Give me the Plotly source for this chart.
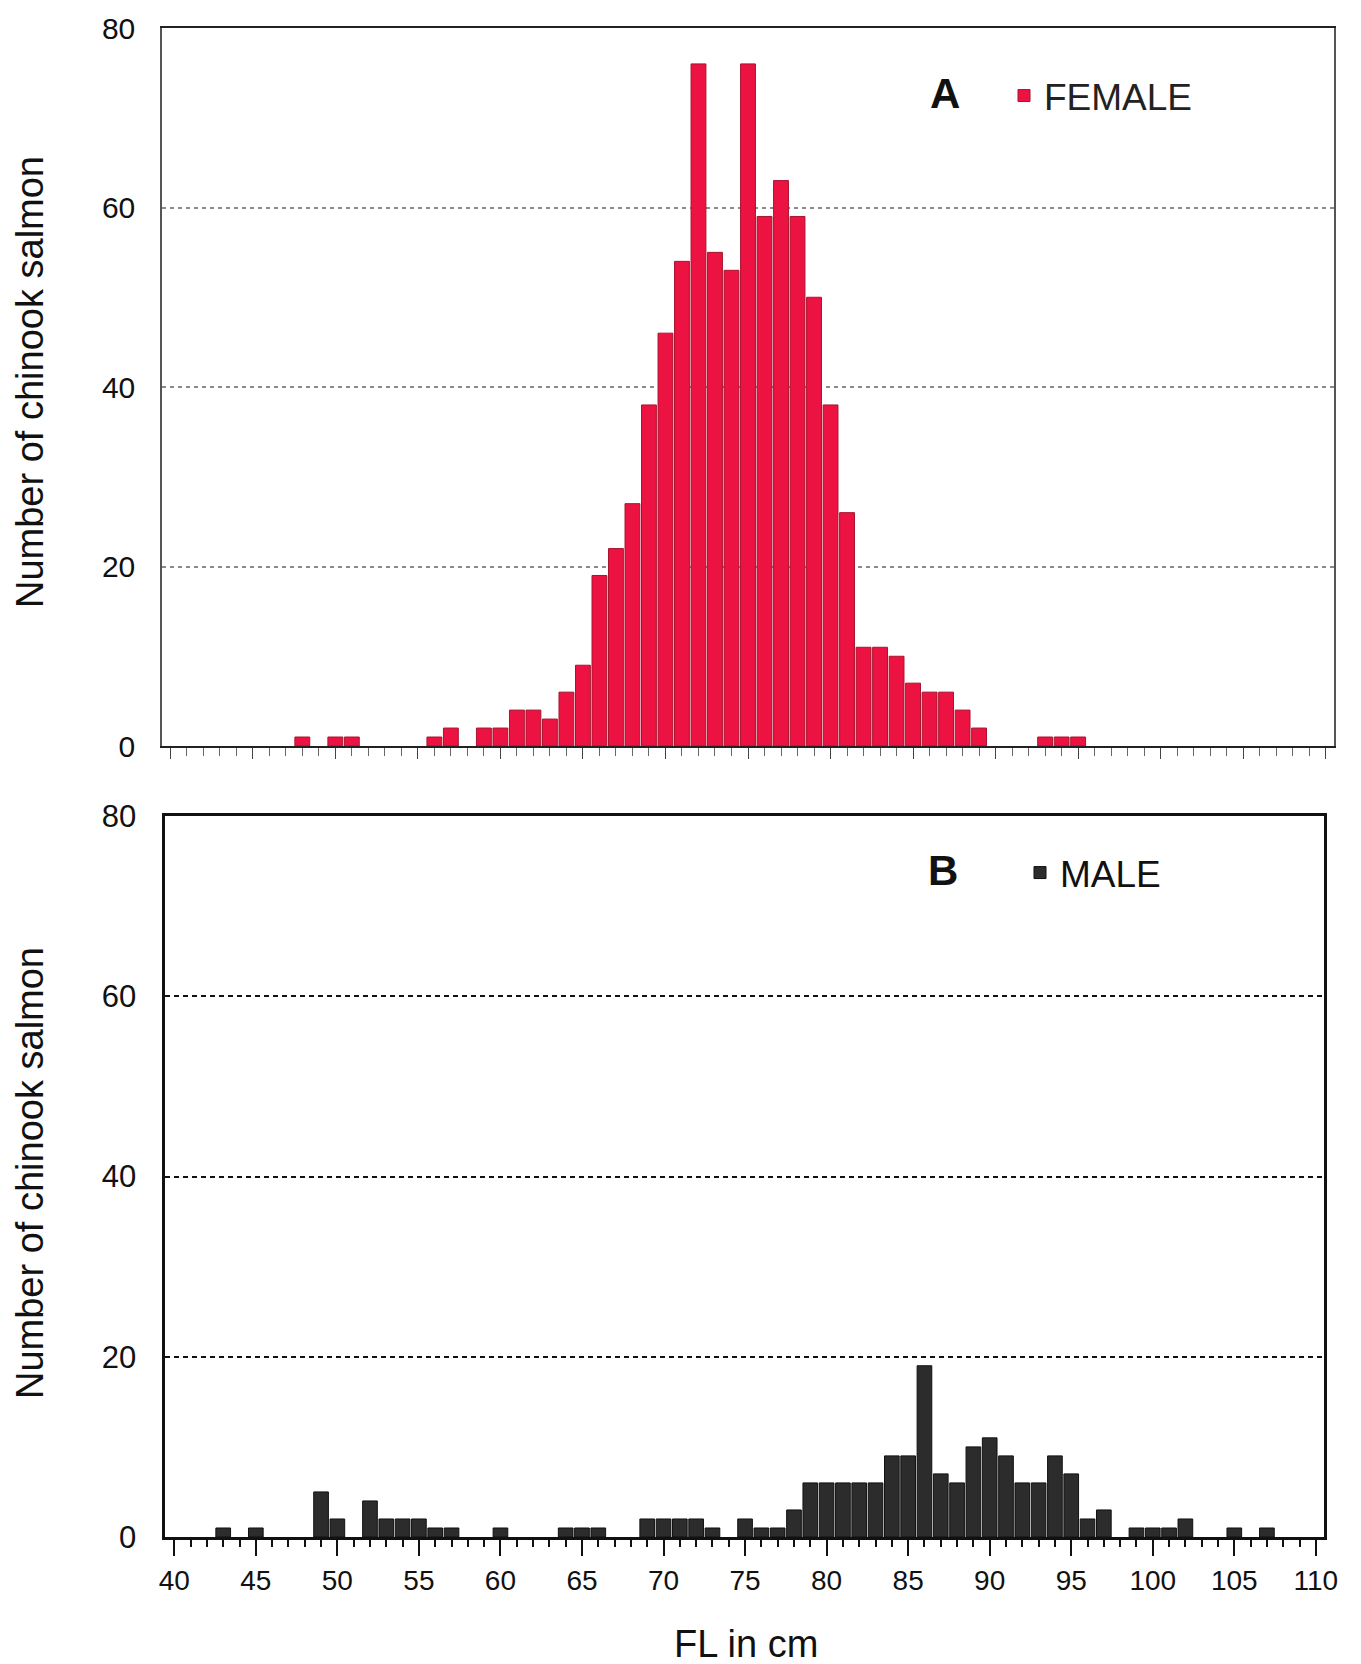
import plotly.graph_objects as go

# ---- data (fork length in cm, number of fish) ----
female_fl = [48, 50, 51, 56, 57, 59, 60, 61, 62, 63, 64, 65, 66, 67, 68, 69, 70, 71, 72, 73,
             74, 75, 76, 77, 78, 79, 80, 81, 82, 83, 84, 85, 86, 87, 88, 89, 93, 94, 95]
female_n = [1, 1, 1, 1, 2, 2, 2, 4, 4, 3, 6, 9, 19, 22, 27, 38, 46, 54, 76, 55,
            53, 76, 59, 63, 59, 50, 38, 26, 11, 11, 10, 7, 6, 6, 4, 2, 1, 1, 1]

male_fl = [43, 45, 49, 50, 52, 53, 54, 55, 56, 57, 60, 64, 65, 66, 69, 70, 71, 72, 73, 75,
           76, 77, 78, 79, 80, 81, 82, 83, 84, 85, 86, 87, 88, 89, 90, 91, 92, 93, 94, 95,
           96, 97, 99, 100, 101, 102, 105, 107]
male_n = [1, 1, 5, 2, 4, 2, 2, 2, 1, 1, 1, 1, 1, 1, 2, 2, 2, 2, 1, 2,
          1, 1, 3, 6, 6, 6, 6, 6, 9, 9, 19, 7, 6, 10, 11, 9, 6, 6, 9, 7,
          2, 3, 1, 1, 1, 2, 1, 1]

x_ticks = list(range(40, 111, 5))
y_ticks = [0, 20, 40, 60, 80]

# page has an 8px body margin: figure is placed at (8, 8) in the window
OFF = 8
W, H = 1361 - OFF, 1664 - OFF
NARROW = "Liberation Sans Narrow, Arial Narrow, Liberation Sans, Arial, sans-serif"
SANS = "Liberation Sans, Arial, Helvetica, sans-serif"


def px(x):
    return (x - OFF) / W


def py(y):
    return 1 - (y - OFF) / H


fig = go.Figure()
fig.add_trace(go.Bar(x=female_fl, y=female_n, name="FEMALE", xaxis="x", yaxis="y",
                     marker=dict(color="#EC1242", line=dict(color="#A8142E", width=1)),
                     legend="legend"))
fig.add_trace(go.Bar(x=male_fl, y=male_n, name="MALE", xaxis="x2", yaxis="y2",
                     marker=dict(color="#2C2C2C", line=dict(color="#111111", width=1)),
                     legend="legend2"))

xr = [39.5, 110.5]
xr2 = [39.4, 110.5]
top_x = [px(162), px(1334)]
top_y = [py(746), py(28)]
bot_x = [px(164.5), px(1324)]
bot_y = [py(1537), py(816)]

fig.update_layout(
    width=W, height=H,
    margin=dict(l=0, r=0, t=0, b=0, autoexpand=False),
    paper_bgcolor="white", plot_bgcolor="white",
    bargap=0.1,
    font=dict(family=SANS, color="#111"),
    # top panel axes
    xaxis=dict(domain=top_x, anchor="y", range=xr, tickvals=x_ticks, showticklabels=False,
               automargin=False,
               ticks="outside", ticklen=11, tickwidth=1, tickcolor="#444",
               minor=dict(dtick=1, tick0=40, ticks="outside", ticklen=8, tickwidth=1, tickcolor="#666"),
               showgrid=False, zeroline=False,
               showline=True, linecolor="#222", linewidth=2, mirror=True),
    xaxis3=dict(domain=top_x, anchor="y", overlaying="x", range=xr, tickvals=x_ticks,
                automargin=False,
                showticklabels=False, ticks="inside", ticklen=15, tickwidth=1, tickcolor="#444",
                showgrid=False, zeroline=False, showline=False),
    yaxis=dict(domain=top_y, anchor="x", range=[0, 80], tickvals=y_ticks,
               automargin=False, ticklabeloverflow="allow",
               ticks="", ticklabelstandoff=19,
               tickfont=dict(family=SANS, size=30, color="#111"),
               showgrid=True, gridcolor="#8a8a8a", gridwidth=1.5, griddash="4px,4px",
               zeroline=False, showline=True, linecolor="#555", linewidth=1.5, mirror=True),
    # bottom panel axes
    xaxis2=dict(domain=bot_x, anchor="y2", range=xr2, tickvals=x_ticks,
                automargin=False,
                ticks="outside", ticklen=16, tickwidth=2, tickcolor="#111",
                ticklabelstandoff=0,
                tickfont=dict(family=NARROW, size=28, color="#111"),
                minor=dict(dtick=1, tick0=40, ticks="outside", ticklen=7, tickwidth=2, tickcolor="#111"),
                showgrid=False, zeroline=False,
                showline=True, linecolor="#111", linewidth=3, mirror=True),
    xaxis4=dict(domain=bot_x, anchor="y2", overlaying="x2", range=xr2, tickvals=x_ticks,
                automargin=False,
                showticklabels=False, ticks="inside", ticklen=15, tickwidth=2, tickcolor="#111",
                showgrid=False, zeroline=False, showline=False),
    yaxis2=dict(domain=bot_y, anchor="x2", range=[0, 80], tickvals=y_ticks,
                automargin=False, ticklabeloverflow="allow",
                ticks="", ticklabelstandoff=19,
                tickfont=dict(family=SANS, size=31, color="#111"),
                showgrid=True, gridcolor="#111", gridwidth=2, griddash="5px,4px",
                zeroline=False, showline=True, linecolor="#111", linewidth=3, mirror=True),
    legend=dict(x=px(1004), y=py(96), xanchor="left", yanchor="middle",
                bgcolor="rgba(0,0,0,0)", borderwidth=0,
                font=dict(family=SANS, size=37, color="#222")),
    legend2=dict(x=px(1020), y=py(873), xanchor="left", yanchor="middle",
                 bgcolor="rgba(0,0,0,0)", borderwidth=0,
                 font=dict(family=SANS, size=37, color="#111")),
    showlegend=True,
)

annotations = [
    dict(text="<b>A</b>", x=px(945), y=py(93), xref="paper", yref="paper",
         xanchor="center", yanchor="middle", showarrow=False,
         font=dict(family=SANS, size=42, color="#111")),
    dict(text="<b>B</b>", x=px(943), y=py(870), xref="paper", yref="paper",
         xanchor="center", yanchor="middle", showarrow=False,
         font=dict(family=SANS, size=42, color="#111")),
    dict(text="Number of chinook salmon", x=px(30), y=py(382), xref="paper", yref="paper",
         xanchor="center", yanchor="middle", textangle=-90, showarrow=False,
         font=dict(family=NARROW, size=38, color="#111")),
    dict(text="Number of chinook salmon", x=px(30), y=py(1173), xref="paper", yref="paper",
         xanchor="center", yanchor="middle", textangle=-90, showarrow=False,
         font=dict(family=NARROW, size=38, color="#111")),
    dict(text="FL in cm", x=px(746), y=py(1644), xref="paper", yref="paper",
         xanchor="center", yanchor="middle", showarrow=False,
         font=dict(family=NARROW, size=38, color="#111")),
]
fig.update_layout(annotations=annotations)

fig.write_html("out.html")
